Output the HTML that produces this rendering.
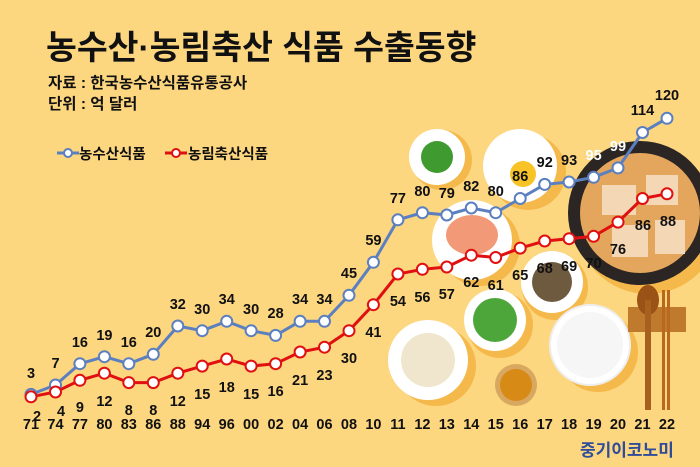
<!DOCTYPE html>
<html><head><meta charset="utf-8"><style>
body{margin:0;background:#FDD680;}
svg{display:block}
text{font-family:"Liberation Sans","Noto Sans CJK KR",sans-serif;font-weight:bold}
</style></head><body>
<svg width="700" height="467" viewBox="0 0 700 467" xmlns="http://www.w3.org/2000/svg">
<rect width="700" height="467" fill="#FDD680"/>
<text x="46" y="59" font-size="33.5" fill="#111">농수산·농림축산 식품 수출동향</text>
<text x="48" y="88" font-size="15.5" fill="#111">자료 : 한국농수산식품유통공사</text>
<text x="48" y="109" font-size="15.5" fill="#111">단위 : 억 달러</text>
<line x1="57" y1="153" x2="79" y2="153" stroke="#5B7FBF" stroke-width="3"/>
<circle cx="68" cy="153" r="4" fill="#fff" stroke="#5B7FBF" stroke-width="2"/>
<text x="79" y="159" font-size="14.5" fill="#111">농수산식품</text>
<line x1="165" y1="153" x2="187" y2="153" stroke="#E01010" stroke-width="3"/>
<circle cx="176" cy="153" r="4" fill="#fff" stroke="#E01010" stroke-width="2"/>
<text x="188" y="159" font-size="14.5" fill="#111">농림축산식품</text>
<g>
<circle cx="442" cy="160" r="30" fill="#F4B94A"/><circle cx="437" cy="157" r="28" fill="#fff"/><circle cx="437" cy="157" r="16" fill="#3F9B2F"/>
<circle cx="528" cy="172" r="38" fill="#F4B94A"/><circle cx="520" cy="166" r="37" fill="#fff"/><circle cx="523" cy="174" r="13" fill="#F7C326"/>
<circle cx="480" cy="246" r="40" fill="#F4B94A"/><circle cx="472" cy="240" r="40" fill="#fff"/><ellipse cx="472" cy="235" rx="26" ry="20" fill="#F29A77"/>
<circle cx="555" cy="287" r="33" fill="#F4B94A"/><circle cx="552" cy="282" r="31" fill="#fff"/><circle cx="552" cy="282" r="20" fill="#6E5A3E"/>
<circle cx="500" cy="325" r="33" fill="#F4B94A"/><circle cx="495" cy="320" r="31" fill="#fff"/><circle cx="495" cy="320" r="22" fill="#4DA63A"/>
<circle cx="598" cy="352" r="40" fill="#F4B94A"/><circle cx="590" cy="345" r="40" fill="#fff" stroke="#eee" stroke-width="2"/><circle cx="590" cy="345" r="33" fill="#F6F6F6"/>
<circle cx="436" cy="366" r="40" fill="#F4B94A"/><circle cx="428" cy="360" r="40" fill="#fff"/><circle cx="428" cy="360" r="27" fill="#EFE6CD"/>
<circle cx="516" cy="385" r="21" fill="#D9A860"/><circle cx="516" cy="385" r="16" fill="#D88A17"/>
<circle cx="648" cy="222" r="72" fill="#F4B94A"/><circle cx="640" cy="213" r="72" fill="#2B2523"/><circle cx="640" cy="213" r="60" fill="#E3A65C"/>
<rect x="602" y="185" width="34" height="30" fill="#F4D7B4"/><rect x="646" y="175" width="32" height="30" fill="#F4D7B4"/><rect x="612" y="225" width="36" height="32" fill="#F4D7B4"/><rect x="655" y="220" width="30" height="34" fill="#F4D7B4"/>
<rect x="628" y="307" width="58" height="25" fill="#C07A2E"/>
<ellipse cx="648" cy="300" rx="11" ry="15" fill="#9A5216"/><rect x="645" y="300" width="6" height="110" fill="#A8601E"/>
<rect x="662" y="290" width="3" height="120" fill="#B8691E"/><rect x="667" y="290" width="3" height="120" fill="#B8691E"/>
</g>
<polyline fill="none" stroke="#5B7FBF" stroke-width="3" points="31,394.4 55.5,385 79.9,363.7 104.4,356.7 128.8,363.7 153.3,354.3 177.8,326 202.2,330.7 226.7,321.3 251.1,330.7 275.6,335.4 300.1,321.3 324.5,321.3 349,295.3 373.4,262.3 397.9,219.8 422.4,212.7 446.8,215 471.3,208 495.7,212.7 520.2,198.5 544.7,184.4 569.1,182 593.6,177.3 618,167.9 642.5,132.5 667,118.3"/>
<polyline fill="none" stroke="#E01010" stroke-width="3" points="31,396.8 55.5,392 79.9,380.3 104.4,373.2 128.8,382.6 153.3,382.6 177.8,373.2 202.2,366.1 226.7,359 251.1,366.1 275.6,363.7 300.1,352 324.5,347.2 349,330.7 373.4,304.7 397.9,274 422.4,269.3 446.8,267 471.3,255.2 495.7,257.5 520.2,248.1 544.7,241 569.1,238.7 593.6,236.3 618,222.1 642.5,198.5 667,193.8"/>
<g fill="#fff" stroke="#5B7FBF" stroke-width="2">
<circle cx="31" cy="394.4" r="5.5"/><circle cx="55.5" cy="385" r="5.5"/><circle cx="79.9" cy="363.7" r="5.5"/><circle cx="104.4" cy="356.7" r="5.5"/><circle cx="128.8" cy="363.7" r="5.5"/><circle cx="153.3" cy="354.3" r="5.5"/><circle cx="177.8" cy="326" r="5.5"/><circle cx="202.2" cy="330.7" r="5.5"/><circle cx="226.7" cy="321.3" r="5.5"/><circle cx="251.1" cy="330.7" r="5.5"/><circle cx="275.6" cy="335.4" r="5.5"/><circle cx="300.1" cy="321.3" r="5.5"/><circle cx="324.5" cy="321.3" r="5.5"/><circle cx="349" cy="295.3" r="5.5"/><circle cx="373.4" cy="262.3" r="5.5"/><circle cx="397.9" cy="219.8" r="5.5"/><circle cx="422.4" cy="212.7" r="5.5"/><circle cx="446.8" cy="215" r="5.5"/><circle cx="471.3" cy="208" r="5.5"/><circle cx="495.7" cy="212.7" r="5.5"/><circle cx="520.2" cy="198.5" r="5.5"/><circle cx="544.7" cy="184.4" r="5.5"/><circle cx="569.1" cy="182" r="5.5"/><circle cx="593.6" cy="177.3" r="5.5"/><circle cx="618" cy="167.9" r="5.5"/><circle cx="642.5" cy="132.5" r="5.5"/><circle cx="667" cy="118.3" r="5.5"/>
</g>
<g fill="#fff" stroke="#E01010" stroke-width="2">
<circle cx="31" cy="396.8" r="5.5"/><circle cx="55.5" cy="392" r="5.5"/><circle cx="79.9" cy="380.3" r="5.5"/><circle cx="104.4" cy="373.2" r="5.5"/><circle cx="128.8" cy="382.6" r="5.5"/><circle cx="153.3" cy="382.6" r="5.5"/><circle cx="177.8" cy="373.2" r="5.5"/><circle cx="202.2" cy="366.1" r="5.5"/><circle cx="226.7" cy="359" r="5.5"/><circle cx="251.1" cy="366.1" r="5.5"/><circle cx="275.6" cy="363.7" r="5.5"/><circle cx="300.1" cy="352" r="5.5"/><circle cx="324.5" cy="347.2" r="5.5"/><circle cx="349" cy="330.7" r="5.5"/><circle cx="373.4" cy="304.7" r="5.5"/><circle cx="397.9" cy="274" r="5.5"/><circle cx="422.4" cy="269.3" r="5.5"/><circle cx="446.8" cy="267" r="5.5"/><circle cx="471.3" cy="255.2" r="5.5"/><circle cx="495.7" cy="257.5" r="5.5"/><circle cx="520.2" cy="248.1" r="5.5"/><circle cx="544.7" cy="241" r="5.5"/><circle cx="569.1" cy="238.7" r="5.5"/><circle cx="593.6" cy="236.3" r="5.5"/><circle cx="618" cy="222.1" r="5.5"/><circle cx="642.5" cy="198.5" r="5.5"/><circle cx="667" cy="193.8" r="5.5"/>
</g>
<g font-size="14.5" fill="#111" text-anchor="middle">
<text x="31" y="378">3</text><text x="55.5" y="368">7</text><text x="79.9" y="347">16</text><text x="104.4" y="340">19</text><text x="128.8" y="347">16</text><text x="153.3" y="337">20</text><text x="177.8" y="309">32</text><text x="202.2" y="314">30</text><text x="226.7" y="304">34</text><text x="251.1" y="314">30</text><text x="275.6" y="318">28</text><text x="300.1" y="304">34</text><text x="324.5" y="304">34</text><text x="349" y="278">45</text><text x="373.4" y="245">59</text><text x="397.9" y="203">77</text><text x="422.4" y="196">80</text><text x="446.8" y="198">79</text><text x="471.3" y="191">82</text><text x="495.7" y="196">80</text><text x="520.2" y="181">86</text><text x="544.7" y="167">92</text><text x="569.1" y="165">93</text><text x="593.6" y="160" fill="#fff">95</text><text x="618" y="151" fill="#fff">99</text><text x="642.5" y="115">114</text><text x="667" y="100">120</text>
</g>
<g font-size="14.5" fill="#111" text-anchor="middle">
<text x="37" y="421">2</text><text x="61" y="416">4</text><text x="79.9" y="412">9</text><text x="104.4" y="406">12</text><text x="128.8" y="415">8</text><text x="153.3" y="415">8</text><text x="177.8" y="406">12</text><text x="202.2" y="399">15</text><text x="226.7" y="392">18</text><text x="251.1" y="399">15</text><text x="275.6" y="396">16</text><text x="300.1" y="385">21</text><text x="324.5" y="380">23</text><text x="349" y="363">30</text><text x="373.4" y="337">41</text><text x="397.9" y="306">54</text><text x="422.4" y="302">56</text><text x="446.8" y="299">57</text><text x="471.3" y="287">62</text><text x="495.7" y="290">61</text><text x="520.2" y="280">65</text><text x="544.7" y="273">68</text><text x="569.1" y="271">69</text><text x="593.6" y="268">70</text><text x="618" y="254">76</text><text x="643" y="230">86</text><text x="668" y="226">88</text>
</g>
<g font-size="14.5" fill="#111" text-anchor="middle">
<text x="31" y="429">71</text><text x="55.5" y="429">74</text><text x="79.9" y="429">77</text><text x="104.4" y="429">80</text><text x="128.8" y="429">83</text><text x="153.3" y="429">86</text><text x="177.8" y="429">88</text><text x="202.2" y="429">94</text><text x="226.7" y="429">96</text><text x="251.1" y="429">00</text><text x="275.6" y="429">02</text><text x="300.1" y="429">04</text><text x="324.5" y="429">06</text><text x="349" y="429">08</text><text x="373.4" y="429">10</text><text x="397.9" y="429">11</text><text x="422.4" y="429">12</text><text x="446.8" y="429">13</text><text x="471.3" y="429">14</text><text x="495.7" y="429">15</text><text x="520.2" y="429">16</text><text x="544.7" y="429">17</text><text x="569.1" y="429">18</text><text x="593.6" y="429">19</text><text x="618" y="429">20</text><text x="642.5" y="429">21</text><text x="667" y="429">22</text>
</g>
<text x="580" y="456" font-size="17" fill="#2E4C9A">중기이코노미</text>
</svg>
</body></html>
